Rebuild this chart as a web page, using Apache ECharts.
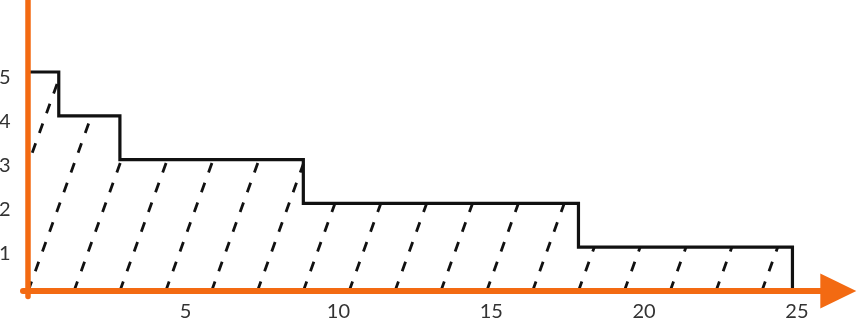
<!DOCTYPE html>
<html>
<head>
<meta charset="utf-8">
<script src="https://cdn.jsdelivr.net/npm/echarts@6/dist/echarts.min.js"></script>
<style>
  html, body { margin: 0; padding: 0; background: #ffffff; }
  #chart { width: 857px; height: 321px; }
</style>
</head>
<body>
<div id="chart"></div>
<script>
// ---- data ----
const stepEdges  = [0, 1, 3, 9, 18, 25];   // x boundaries of the steps
const stepLevels = [5, 4, 3, 2, 1];        // height of each step
const xTickLabels = [5, 10, 15, 20, 25];
const yTickLabels = [1, 2, 3, 4, 5];

// ---- style constants ----
const ORANGE = '#F36A12';
const INK = '#111111';
const HATCH_SPACING = 1.5;   // in x data units
const HATCH_SLOPE = 2.77;    // pixel dy/dx of the hatch lines

// outline of the step function (step:'end')
const lastEdge = stepEdges[stepEdges.length - 1];
const lastLevel = stepLevels[stepLevels.length - 1];
const stepLine = [[stepEdges[0], stepLevels[1]]];
stepLevels.forEach((lv, i) => stepLine.push([stepEdges[i], lv]));
stepLine.push([lastEdge, lastLevel]);
stepLine.push([lastEdge, 0]);

function renderHatch(params, api) {
  const yBase = api.coord([0, 0])[1];
  const segs = stepLevels.map((lv, i) => {
    const a = api.coord([stepEdges[i], lv]);
    const b = api.coord([stepEdges[i + 1], lv]);
    return { x0: a[0], x1: b[0], top: a[1] };
  });
  const xLeft = segs[0].x0;
  const xRight = segs[segs.length - 1].x1;
  const children = [];
  for (let k = -1; k * HATCH_SPACING < lastEdge; k++) {
    const px = api.coord([k * HATCH_SPACING, 0])[0];
    const yAt = x => yBase - HATCH_SLOPE * (x - px);
    const sx = Math.max(px, xLeft);
    const sy = yAt(sx);
    let ex = null, ey = null;
    for (const s of segs) {
      if (s.x1 <= sx) continue;
      const xs = Math.max(s.x0, sx);
      const ys = yAt(xs);
      if (ys <= s.top) { ex = xs; ey = ys; break; }
      const xHit = px + (yBase - s.top) / HATCH_SLOPE;
      if (xHit <= s.x1) { ex = xHit; ey = s.top; break; }
    }
    if (ex === null) { ex = xRight; ey = yAt(xRight); }
    const len = Math.hypot(ex - sx, ey - sy);
    if (len < 1) continue;
    const off = Math.hypot(sx - px, sy - yBase);
    children.push({
      type: 'line',
      shape: { x1: sx, y1: sy, x2: ex, y2: ey },
      style: { stroke: INK, lineWidth: 2.8, lineDash: [10, 11], lineDashOffset: off, lineCap: 'butt' }
    });
  }
  return { type: 'group', children: children };
}

const chart = echarts.init(document.getElementById('chart'), null, { renderer: 'canvas' });
chart.setOption({
  animation: false,
  backgroundColor: '#ffffff',
  grid: { left: 23, right: 18.7, top: 0, bottom: 24.5, containLabel: false, outerBoundsMode: 'none' },
  xAxis: {
    type: 'value',
    min: -0.17,
    max: 26.5,
    offset: -3,
    z: 10,
    axisLine: {
      show: true,
      symbol: ['none', 'triangle'],
      symbolSize: [35, 36],
      lineStyle: { color: ORANGE, width: 6 }
    },
    axisTick: { show: false },
    splitLine: { show: false },
    axisLabel: {
      customValues: xTickLabels,
      margin: 8,
      color: '#333333',
      fontSize: 20,
      fontFamily: 'Lato',
      padding: [0, 0, 0, 9]
    }
  },
  yAxis: {
    type: 'value',
    min: -0.1256,
    max: 6.644,
    offset: -2.5,
    z: 10,
    axisLine: {
      show: true,
      lineStyle: { color: ORANGE, width: 5.5 }
    },
    axisTick: { show: false },
    splitLine: { show: false },
    axisLabel: {
      customValues: yTickLabels,
      margin: 15,
      color: '#333333',
      fontSize: 20,
      fontFamily: 'Lato',
      verticalAlign: 'top',
      lineHeight: 12
    }
  },
  series: [
    {
      type: 'custom',
      coordinateSystem: 'cartesian2d',
      renderItem: renderHatch,
      data: [[0, 0]],
      clip: false,
      silent: true,
      z: 1
    },
    {
      type: 'line',
      step: 'end',
      data: stepLine,
      showSymbol: false,
      symbol: 'none',
      clip: false,
      silent: true,
      lineStyle: { color: INK, width: 3.2, join: 'miter', cap: 'butt' },
      z: 2
    }
  ]
});
</script>
</body>
</html>
